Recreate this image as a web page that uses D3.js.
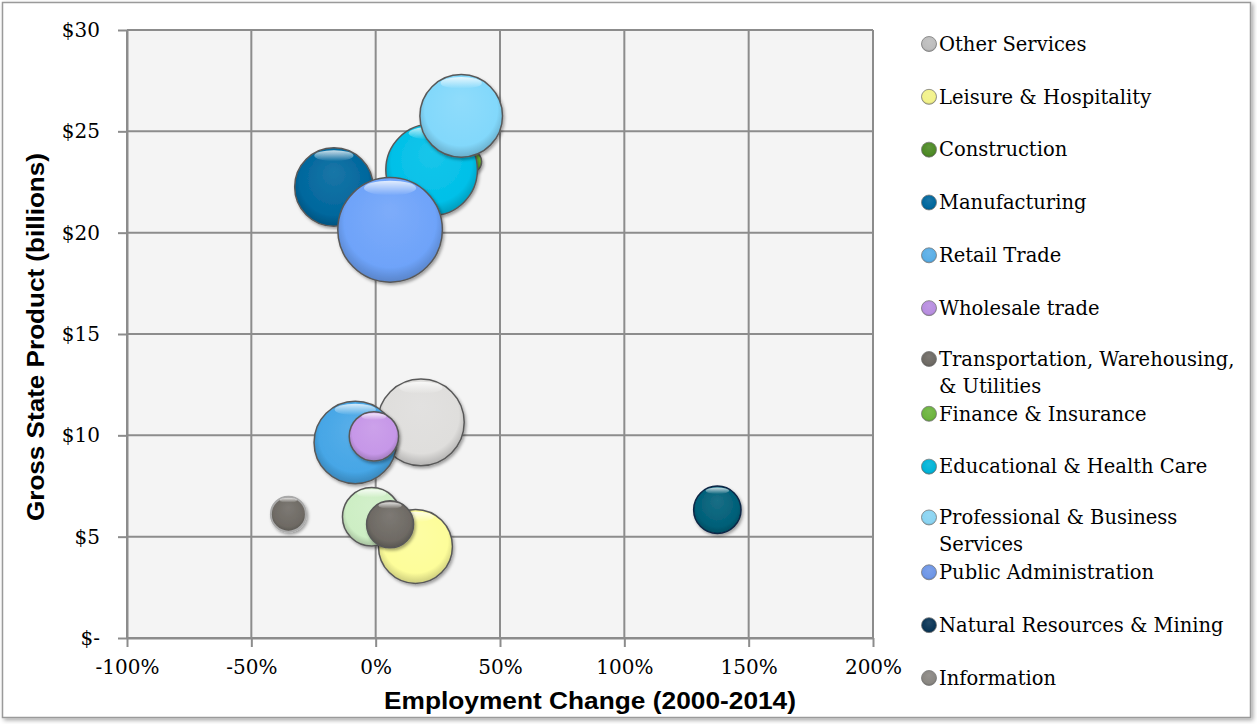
<!DOCTYPE html>
<html>
<head>
<meta charset="utf-8">
<script src="https://cdn.jsdelivr.net/npm/d3@7"></script>
<style>
  body { margin: 0; background: #fff; }
  .tick text { font-family: "DejaVu Serif", serif; font-size: 20px; fill: #000; }
  .axis path, .axis line { stroke: #8c8c8c; stroke-width: 2; }
  .title { font-family: "Liberation Sans", "DejaVu Sans", sans-serif; font-weight: bold; font-size: 23px; }
  .legend text { font-family: "DejaVu Serif", serif; font-size: 19.5px; }
</style>
</head>
<body>
<div id="chart"></div>
<script>

// series in legend order (also drawing order)
const sectors = ["Other Services", "Leisure & Hospitality", "Construction", "Manufacturing", "Retail Trade",
  "Wholesale trade", "Transportation, Warehousing, & Utilities", "Finance & Insurance",
  "Educational & Health Care", "Professional & Business Services", "Public Administration",
  "Natural Resources & Mining", "Information"];
const legendLines = [["Other Services"], ["Leisure & Hospitality"], ["Construction"], ["Manufacturing"], ["Retail Trade"],
  ["Wholesale trade"], ["Transportation, Warehousing,", "& Utilities"], ["Finance & Insurance"],
  ["Educational & Health Care"], ["Professional & Business", "Services"], ["Public Administration"],
  ["Natural Resources & Mining"], ["Information"]];
const empChange = [18.2, 16.0, -1.6, -16.8, -8.2, -0.7, 5.8, 38.2, 22.5, 34.4, 5.8, 137.4, -35.1];   // %
const gsp = [10.64, 4.52, 5.98, 22.25, 9.65, 9.95, 5.61, 23.5, 23.1, 25.76, 20.14, 6.33, 6.11];        // $ billions
const bubbleSize = [68.5, 50, 31.2, 56.2, 62.1, 22.3, 20.2, 4.4, 76.7, 62.4, 100, 20.5, 11.2];
const colors = ["#dfdedc", "#fdfd9a", "#cdeec4", "#00679d", "#46a6e6", "#c697e8", "#6e6a64", "#6cb02e",
  "#00c0e8", "#82d8fb", "#6ea3f9", "#005f78", "#6e6a64"];
const legendColors = ["#bdbdbd", "#f2f28a", "#4d8a25", "#00679d", "#5aaee6", "#b88ee0", "#6e6a64", "#6cb43e",
  "#00b4d8", "#8ad4f2", "#6e96e6", "#0a3556", "#8a8782"];
const xTicks = [-100, -50, 0, 50, 100, 150, 200];
const yTicks = [0, 5, 10, 15, 20, 25, 30];

const width = 1257, height = 724;
const plot = {left: 127, right: 873, top: 30, bottom: 638};

let svg = d3.select("#chart").append("svg")
    .attr("width", width)
    .attr("height", height);

let defs = svg.append("defs");

let shadow = defs.append("filter").attr("id", "shadow")
    .attr("x", "-20%").attr("y", "-20%").attr("width", "150%").attr("height", "150%");
shadow.append("feDropShadow").attr("dx", 1.5).attr("dy", 2).attr("stdDeviation", 1.8)
    .attr("flood-color", "#000").attr("flood-opacity", 0.35);

let frameShadow = defs.append("filter").attr("id", "frameShadow")
    .attr("x", "-2%").attr("y", "-2%").attr("width", "104%").attr("height", "104%");
frameShadow.append("feDropShadow").attr("dx", 2).attr("dy", 2).attr("stdDeviation", 2)
    .attr("flood-color", "#000").attr("flood-opacity", 0.35);

// thin shine at the top of each bubble
let gloss = defs.append("linearGradient").attr("id", "gloss")
    .attr("x1", 0).attr("y1", 0).attr("x2", 0).attr("y2", 1);
gloss.append("stop").attr("offset", "0%").attr("stop-color", "#fff").attr("stop-opacity", 0.8);
gloss.append("stop").attr("offset", "100%").attr("stop-color", "#fff").attr("stop-opacity", 0);

function sphereGradient(id, c) {
  let g = defs.append("radialGradient").attr("id", id)
      .attr("cx", "50%").attr("cy", "45%").attr("r", "55%")
      .attr("fx", "50%").attr("fy", "30%");
  g.append("stop").attr("offset", "0%").attr("stop-color", d3.interpolateRgb(c, "#fff")(0.1));
  g.append("stop").attr("offset", "80%").attr("stop-color", c);
  g.append("stop").attr("offset", "100%").attr("stop-color", d3.color(c).darker(0.6));
}
colors.forEach((c, i) => sphereGradient("b" + i, c));
legendColors.forEach((c, i) => sphereGradient("l" + i, c));

// chart frame
svg.append("rect")
    .attr("x", 2.5).attr("y", 2.5)
    .attr("width", 1248).attr("height", 715)
    .attr("fill", "#fff")
    .attr("stroke", "#9a9a9a")
    .attr("stroke-width", 1.5)
    .attr("filter", "url(#frameShadow)");

let x = d3.scaleLinear().domain([-100, 200]).range([plot.left, plot.right]);
let y = d3.scaleLinear().domain([0, 30]).range([plot.bottom, plot.top]);
let r = d3.scaleSqrt().domain([0, 100]).range([0, 52.3]);

svg.append("rect")
    .attr("x", plot.left).attr("y", plot.top)
    .attr("width", plot.right - plot.left).attr("height", plot.bottom - plot.top)
    .attr("fill", "#f4f4f4");

// gridlines
svg.append("g").selectAll("line").data(xTicks).join("line")
    .attr("x1", d => x(d)).attr("x2", d => x(d))
    .attr("y1", plot.top).attr("y2", plot.bottom)
    .attr("stroke", "#8c8c8c").attr("stroke-width", 2);
svg.append("g").selectAll("line").data(yTicks).join("line")
    .attr("x1", plot.left).attr("x2", plot.right)
    .attr("y1", d => y(d)).attr("y2", d => y(d))
    .attr("stroke", "#8c8c8c").attr("stroke-width", 2);

svg.append("g")
    .attr("class", "axis")
    .attr("transform", "translate(" + plot.left + ",0)")
    .call(d3.axisLeft(y).tickValues(yTicks).tickSize(9).tickSizeOuter(0).tickPadding(18)
      .tickFormat(d => d === 0 ? "$-" : "$" + d));

svg.append("g")
    .attr("class", "axis")
    .attr("transform", "translate(0," + plot.bottom + ")")
    .call(d3.axisBottom(x).tickValues(xTicks).tickSize(9).tickSizeOuter(0).tickPadding(13)
      .tickFormat(d => d + "%"));

svg.append("text")
    .attr("class", "title")
    .attr("x", 590).attr("y", 709)
    .attr("text-anchor", "middle")
    .attr("textLength", 412)
    .attr("lengthAdjust", "spacingAndGlyphs")
    .text("Employment Change (2000-2014)");

svg.append("text")
    .attr("class", "title")
    .attr("transform", "translate(44,337) rotate(-90)")
    .attr("text-anchor", "middle")
    .attr("textLength", 368)
    .attr("lengthAdjust", "spacingAndGlyphs")
    .text("Gross State Product (billions)");

// bubbles
let bubbles = svg.append("g").selectAll("g").data(sectors).join("g")
    .attr("transform", (d, i) => "translate(" + x(empChange[i]) + "," + y(gsp[i]) + ")");

bubbles.append("circle")
    .attr("r", (d, i) => r(bubbleSize[i]))
    .attr("fill", (d, i) => "url(#b" + i + ")")
    .attr("stroke", (d, i) => i === 11 ? "#0b2545" : (i === 12 ? "#a9a9a9" : "#595959"))
    .attr("stroke-width", (d, i) => i === 12 ? 2 : 1.5)
    .attr("filter", "url(#shadow)");

bubbles.append("ellipse")
    .attr("cy", (d, i) => -r(bubbleSize[i]) * 0.8)
    .attr("rx", (d, i) => r(bubbleSize[i]) * 0.5)
    .attr("ry", (d, i) => r(bubbleSize[i]) * 0.14)
    .attr("fill", "url(#gloss)");

// legend
let legend = svg.append("g").attr("class", "legend");
let rows = legend.selectAll("g").data(legendLines).join("g")
    .attr("transform", (d, i) => "translate(929," + (44 + i * 52.83 - (d.length > 1 ? 2 : 0)) + ")");

rows.append("circle")
    .attr("r", 7.5)
    .attr("fill", (d, i) => "url(#l" + i + ")")
    .attr("stroke", "#7a7a7a")
    .attr("stroke-width", 0.8);

rows.append("text")
    .attr("x", 10)
    .selectAll("tspan").data(d => d).join("tspan")
    .attr("x", 10)
    .attr("y", (d, j) => j * 27)
    .attr("dy", "0.35em")
    .text(d => d);

</script>
</body>
</html>
